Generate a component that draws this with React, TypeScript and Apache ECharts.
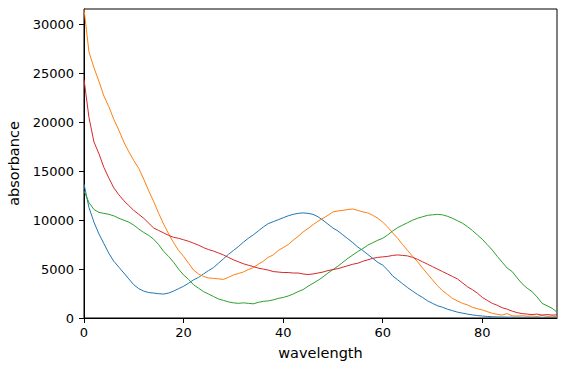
import React, { useEffect, useRef } from "react";
import * as echarts from "echarts";

const wavelength: number[] = Array.from({ length: 96 }, (_, i) => i);

const seriesBlue: number[] = [
  13700, 11300, 9800, 8600, 7600, 6600, 5800, 5200, 4600, 4000,
  3400, 3000, 2750, 2600, 2550, 2480, 2450, 2550, 2750, 3000,
  3250, 3550, 3900, 4150, 4500, 4850, 5150, 5600, 6050, 6500,
  6900, 7300, 7750, 8150, 8500, 8900, 9300, 9650, 9850, 10050,
  10250, 10450, 10600, 10700, 10750, 10700, 10600, 10350, 10000, 9600,
  9200, 8900, 8500, 8100, 7700, 7250, 6900, 6500, 6100, 5700,
  5400, 4900, 4300, 3900, 3500, 3100, 2750, 2400, 2100, 1750,
  1500, 1250, 1100, 900, 750, 600, 500, 400, 320, 250,
  200, 160, 130, 110, 100, 90, 80, 90, 70, 80,
  60, 70, 60, 50, 60, 50,
];

const seriesOrange: number[] = [
  31600, 27200, 25600, 24200, 22700, 21600, 20300, 19200, 18000, 17000,
  16100, 15300, 14200, 13000, 11900, 10700, 9600, 8600, 7700, 6900,
  6300, 5600, 4900, 4500, 4250, 4100, 4050, 4000, 3950, 4150,
  4400, 4550, 4700, 4950, 5150, 5500, 5800, 6200, 6450, 6900,
  7200, 7500, 7950, 8350, 8800, 9150, 9550, 9900, 10200, 10500,
  10850, 10950, 11000, 11100, 11150, 11000, 10850, 10750, 10500, 10200,
  9800, 9300, 8700, 8150, 7500, 6900, 6300, 5750, 5100, 4500,
  3900, 3300, 2800, 2400, 2000, 1750, 1500, 1350, 1100, 950,
  820, 650, 480, 380, 300, 450, 220, 200, 230, 180,
  200, 150, 250, 160, 180, 150,
];

const seriesGreen: number[] = [
  13000, 11800, 11100, 10800, 10700, 10600, 10450, 10200, 10000, 9800,
  9500, 9100, 8750, 8450, 8050, 7500, 6800, 6300, 5700, 5000,
  4400, 3950, 3400, 3050, 2700, 2450, 2200, 1950, 1800, 1650,
  1550, 1500, 1550, 1500, 1450, 1600, 1700, 1750, 1850, 2000,
  2100, 2250, 2450, 2700, 2900, 3250, 3550, 3850, 4200, 4600,
  4950, 5300, 5700, 6100, 6450, 6800, 7100, 7450, 7700, 7950,
  8150, 8500, 8900, 9250, 9500, 9750, 10000, 10200, 10350, 10500,
  10550, 10600, 10550, 10400, 10200, 9950, 9700, 9350, 8950, 8500,
  8050, 7500, 6950, 6300, 5700, 5100, 4750, 4100, 3500, 3050,
  2700, 2150, 1500, 1250, 1000, 600,
];

const seriesRed: number[] = [
  24400, 20500, 18000, 16800, 15400, 14300, 13300, 12600, 12000, 11500,
  11000, 10600, 10200, 9700, 9200, 8950, 8700, 8450, 8250, 8150,
  8000, 7850, 7650, 7450, 7200, 7000, 6850, 6650, 6450, 6200,
  5950, 5750, 5550, 5400, 5250, 5100, 5000, 4900, 4750, 4700,
  4650, 4650, 4600, 4600, 4500, 4450, 4500, 4600, 4700, 4850,
  4950, 5050, 5200, 5350, 5500, 5600, 5800, 5950, 6100, 6200,
  6250, 6300, 6400, 6450, 6400, 6350, 6200, 6000, 5750, 5500,
  5250, 5000, 4750, 4500, 4250, 4000, 3600, 3200, 2900, 2550,
  2100, 1800, 1500, 1300, 1050, 900, 700, 550, 450, 400,
  350, 400, 300, 350, 300, 320,
];

const xTicks: number[] = [0, 20, 40, 60, 80];
const yTicks: number[] = [0, 5000, 10000, 15000, 20000, 25000, 30000];

const colors = ["#1f77b4", "#ff7f0e", "#2ca02c", "#d62728"];
const FONT = "DejaVu Sans";

export default function App() {
  const ref = useRef<HTMLDivElement>(null);
  useEffect(() => {
    if (!ref.current) return;
    const chart = echarts.init(ref.current, undefined, { renderer: "svg" });
    const mk = (vals: number[], i: number) => ({
      type: "line",
      data: wavelength.map((x, k) => [x, vals[k]]),
      showSymbol: false,
      symbol: "none",
      lineStyle: { width: 1, color: colors[i] },
      itemStyle: { color: colors[i] },
      z: 2 + i,
    });
    chart.setOption({
      animation: false,
      backgroundColor: "#fff",
      textStyle: { fontFamily: FONT, color: "#000" },
      grid: {
        left: 84,
        right: 9,
        top: 9,
        bottom: 56,
        containLabel: false,
        outerBoundsMode: "none",
        show: true,
        borderColor: "#000",
        borderWidth: 1,
        backgroundColor: "transparent",
      },
      xAxis: {
        type: "value",
        min: 0,
        max: 95,
        interval: 20,
        name: "wavelength",
        nameLocation: "middle",
        nameGap: 27,
        nameTextStyle: { fontSize: 14.5, color: "#000", fontFamily: FONT },
        axisLine: { show: true, lineStyle: { color: "#000", width: 1 } },
        axisTick: { show: true, inside: false, length: 5, lineStyle: { color: "#000" }, customValues: xTicks },
        axisLabel: {
          fontSize: 13, color: "#000", margin: 8, fontFamily: FONT, customValues: xTicks,
          formatter: (v: number) => String(v),
        },
        splitLine: { show: false },
      },
      yAxis: {
        type: "value",
        min: 0,
        max: 31600,
        interval: 5000,
        name: "absorbance",
        nameLocation: "middle",
        nameGap: 56,
        nameTextStyle: { fontSize: 14.5, color: "#000", fontFamily: FONT },
        axisLine: { show: true, lineStyle: { color: "#000", width: 1 } },
        axisTick: { show: true, inside: false, length: 5, lineStyle: { color: "#000" }, customValues: yTicks },
        axisLabel: {
          fontSize: 13, color: "#000", margin: 10, fontFamily: FONT, customValues: yTicks,
          formatter: (v: number) => String(v),
        },
        splitLine: { show: false },
      },
      series: [
        mk(seriesBlue, 0),
        mk(seriesOrange, 1),
        mk(seriesGreen, 2),
        mk(seriesRed, 3),
      ],
    });
    return () => chart.dispose();
  }, []);
  return (
    <div
      ref={ref}
      style={{ position: "fixed", left: 0, top: 0, width: 566, height: 374 }}
    />
  );
}
